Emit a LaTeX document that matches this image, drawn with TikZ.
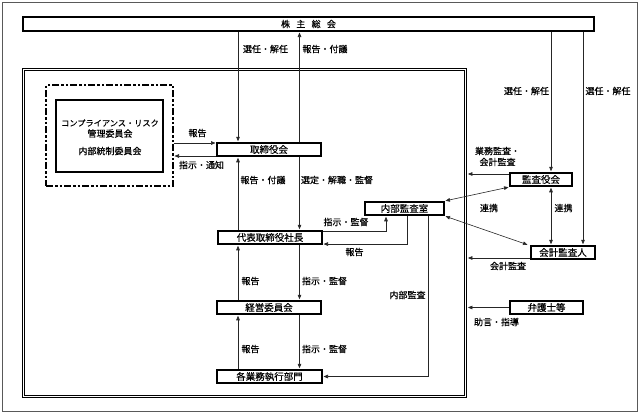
\documentclass[tikz,border=0pt]{standalone}
\usepackage{fontspec}
\setmainfont{Noto Sans CJK JP}[FakeBold=0.35]
\usetikzlibrary{arrows.meta}
\begin{document}
\begin{tikzpicture}[x=1pt,y=-1pt,
  box/.style={draw,line width=1.6pt,minimum height=13.5pt,inner sep=0pt,font=\fontsize{9.5}{10}\selectfont},
  lbl/.style={inner sep=0pt,font=\fontsize{9}{10}\selectfont},
  conn/.style={draw=black!85,line width=0.6pt},
  tip/.tip={Triangle[length=4.5pt,width=3.6pt]},
  arr/.style={conn,-tip,shorten >=0.7pt},
  darr/.style={conn,tip-tip,shorten >=0.7pt,shorten <=0.7pt}
]
\useasboundingbox (0,0) rectangle (640,415);
% frames
\node[draw=black!65,line width=0.8pt,minimum width=635pt,minimum height=409pt,inner sep=0pt] (outer) at (319.5,206.5) {};
\node[draw,double,double distance=1.6pt,line width=0.6pt,minimum width=442pt,minimum height=327pt,inner sep=0pt] (frame) at (244.5,233) {};
% boxes
\node[box,minimum width=571pt,minimum height=14pt,font=\fontsize{9}{10}\selectfont] (gm) at (308.5,24) {株\hspace{0.7em}主\hspace{0.7em}総\hspace{0.7em}会};
\node[box,minimum width=104pt] (board) at (269,149.5) {取締役会};
\node[box,minimum width=104pt] (ceo) at (270,237.5) {代表取締役社長};
\node[box,minimum width=104pt] (mgmt) at (269,307.5) {経営委員会};
\node[box,minimum width=105pt] (dept) at (269.5,376.5) {各業務執行部門};
\node[box,minimum width=79pt] (audit) at (404.5,208.5) {内部監査室};
\node[box,minimum width=62pt] (kansa) at (541,179.5) {監査役会};
\node[box,minimum width=64pt] (acct) at (563,252.5) {会計監査人};
\node[box,minimum width=73pt] (lawyer) at (546.5,307.5) {弁護士等};
\node[draw,line width=1.6pt,dash pattern=on 7pt off 2pt on 2.5pt off 2pt on 2.5pt off 2pt,minimum width=127pt,minimum height=101pt,inner sep=0pt] (dash) at (109.5,135.5) {};
\node[draw,line width=1.8pt,minimum width=107pt,minimum height=72pt,inner sep=0pt] (comp) at (109.5,136) {};
\node[lbl,font=\fontsize{8.2}{10}\selectfont] (c1) at (110,123) {コンプライアンス・リスク};
\node[lbl] (c2) at (110,133.5) {管理委員会};
\node[lbl] (c3) at (110,151) {内部統制委員会};
% helper coordinates
\coordinate (xL) at (238,0);
\coordinate (xR) at (299.5,0);
\coordinate (xA) at (386,0);
\coordinate (xB) at (407,0);
\coordinate (xC) at (428,0);
\coordinate (xK) at (551,0);
\coordinate (xAc) at (583,0);
\coordinate (fr) at (467.2,0);
\coordinate (yT) at (0,143);
\coordinate (yB) at (0,156);
\coordinate (yK) at (0,174);
\coordinate (yAc) at (0,258);
% connectors
\draw[arr] (gm.south -| xL) -- (board.north -| xL);
\draw[arr] (board.north -| xR) -- (gm.south -| xR);
\draw[arr] (ceo.north -| xL) -- (board.south -| xL);
\draw[arr] (board.south -| xR) -- (ceo.north -| xR);
\draw[arr] (mgmt.north -| xL) -- (ceo.south -| xL);
\draw[arr] (ceo.south -| xR) -- (mgmt.north -| xR);
\draw[arr] (dept.north -| xL) -- (mgmt.south -| xL);
\draw[arr] (mgmt.south -| xR) -- (dept.north -| xR);
\draw[arr] ([yshift=-1pt]ceo.north east) -| (audit.south -| xA);
\draw[arr] (audit.south -| xB) |- ([yshift=1pt]ceo.south east);
\draw[arr] (audit.south -| xC) |- (dept.east);
\draw[arr] (dash.east |- yT) -- (board.west |- yT);
\draw[arr] (board.west |- yB) -- (dash.east |- yB);
\draw[arr] (kansa.west |- yK) -- (fr |- yK);
\draw[arr] (acct.west |- yAc) -- (fr |- yAc);
\draw[arr] (lawyer.west) -- (fr |- lawyer.west);
\draw[arr] (gm.south -| xK) -- (kansa.north -| xK);
\draw[arr] (gm.south -| xAc) -- (acct.north -| xAc);
\draw[darr] (kansa.south -| xK) -- (acct.north -| xK);
\draw[darr] (audit.north east) -- (kansa.south west);
\draw[darr] (audit.south east) -- ([xshift=-2pt]acct.north west);
% labels
\node[lbl] (l1) at (265.5,49) {選任・解任};
\node[lbl] (l2) at (325,49) {報告・付議};
\node[lbl] (l3) at (526.5,91) {選任・解任};
\node[lbl] (l4) at (608,91) {選任・解任};
\node[lbl] (l5) at (197.5,133) {報告};
\node[lbl] (l6) at (201.5,165) {指示・通知};
\node[lbl] (l7) at (263,180) {報告・付議};
\node[lbl] (l8) at (337,180) {選定・解職・監督};
\node[lbl] (l9) at (346,222) {指示・監督};
\node[lbl] (l10) at (354.5,252) {報告};
\node[lbl] (l11) at (250.5,281) {報告};
\node[lbl] (l12) at (324.5,281) {指示・監督};
\node[lbl] (l13) at (407.5,295) {内部監査};
\node[lbl] (l14) at (250.5,349) {報告};
\node[lbl] (l15) at (324.5,349) {指示・監督};
\node[lbl,align=center,font=\fontsize{9}{11}\selectfont] (l16) at (497.5,156.5) {業務監査・\\会計監査};
\node[lbl] (l17) at (489,208) {連携};
\node[lbl] (l18) at (563.5,208) {連携};
\node[lbl] (l19) at (508,266) {会計監査};
\node[lbl] (l20) at (496.5,322) {助言・指導};
\end{tikzpicture}
\end{document}
